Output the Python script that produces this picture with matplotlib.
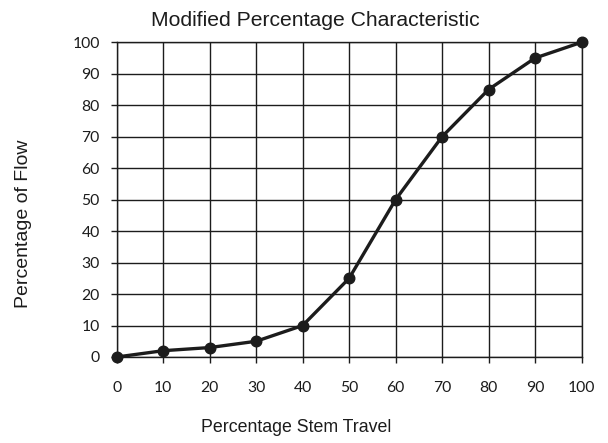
import matplotlib
matplotlib.use("Agg")
import matplotlib.pyplot as plt

stem_travel = [0, 10, 20, 30, 40, 50, 60, 70, 80, 90, 100]
flow = [0, 2, 3, 5, 10, 25, 50, 70, 85, 95, 100]
x_ticks = [0, 10, 20, 30, 40, 50, 60, 70, 80, 90, 100]
y_ticks = [0, 10, 20, 30, 40, 50, 60, 70, 80, 90, 100]

W, H = 608, 443
fig = plt.figure(figsize=(W / 100, H / 100), dpi=100)
L, R, T, B = 116.7, 581.5, 42.3, 357.0
ax = fig.add_axes([L / W, 1 - B / H, (R - L) / W, (B - T) / H])
ink = "#1c1c1c"
ax.plot(stem_travel, flow, color=ink, lw=2.4, marker="o", ms=7.6, zorder=3, clip_on=False)
ax.set_xlim(0, 100)
ax.set_ylim(0, 100)
ax.set_xticks(x_ticks)
ax.set_yticks(y_ticks)
ax.grid(True, color=ink, lw=1.0)
for s in ax.spines.values():
    s.set_color(ink)
    s.set_linewidth(1.0)
ax.tick_params(axis="both", length=4.2, width=1.0, color=ink, labelsize=11.3, labelcolor=ink)
ax.tick_params(axis="x", pad=13)
ax.tick_params(axis="y", pad=8)
for lab in ax.get_xticklabels() + ax.get_yticklabels():
    lab.set_family("Lato")
fig.text(315 / W, 1 - 20.5 / H, "Modified Percentage Characteristic", family="Liberation Sans",
         fontsize=15.2, color=ink, ha="center", va="center")
fig.text(296 / W, 1 - 428 / H, "Percentage Stem Travel", family="Liberation Sans", fontsize=12.8,
         color=ink, ha="center", va="center")
fig.text(24 / W, 1 - 224 / H, "Percentage of Flow", family="Liberation Sans", fontsize=14, color=ink,
         rotation=90, ha="center", va="center")
fig.savefig("out.png", dpi=100)
